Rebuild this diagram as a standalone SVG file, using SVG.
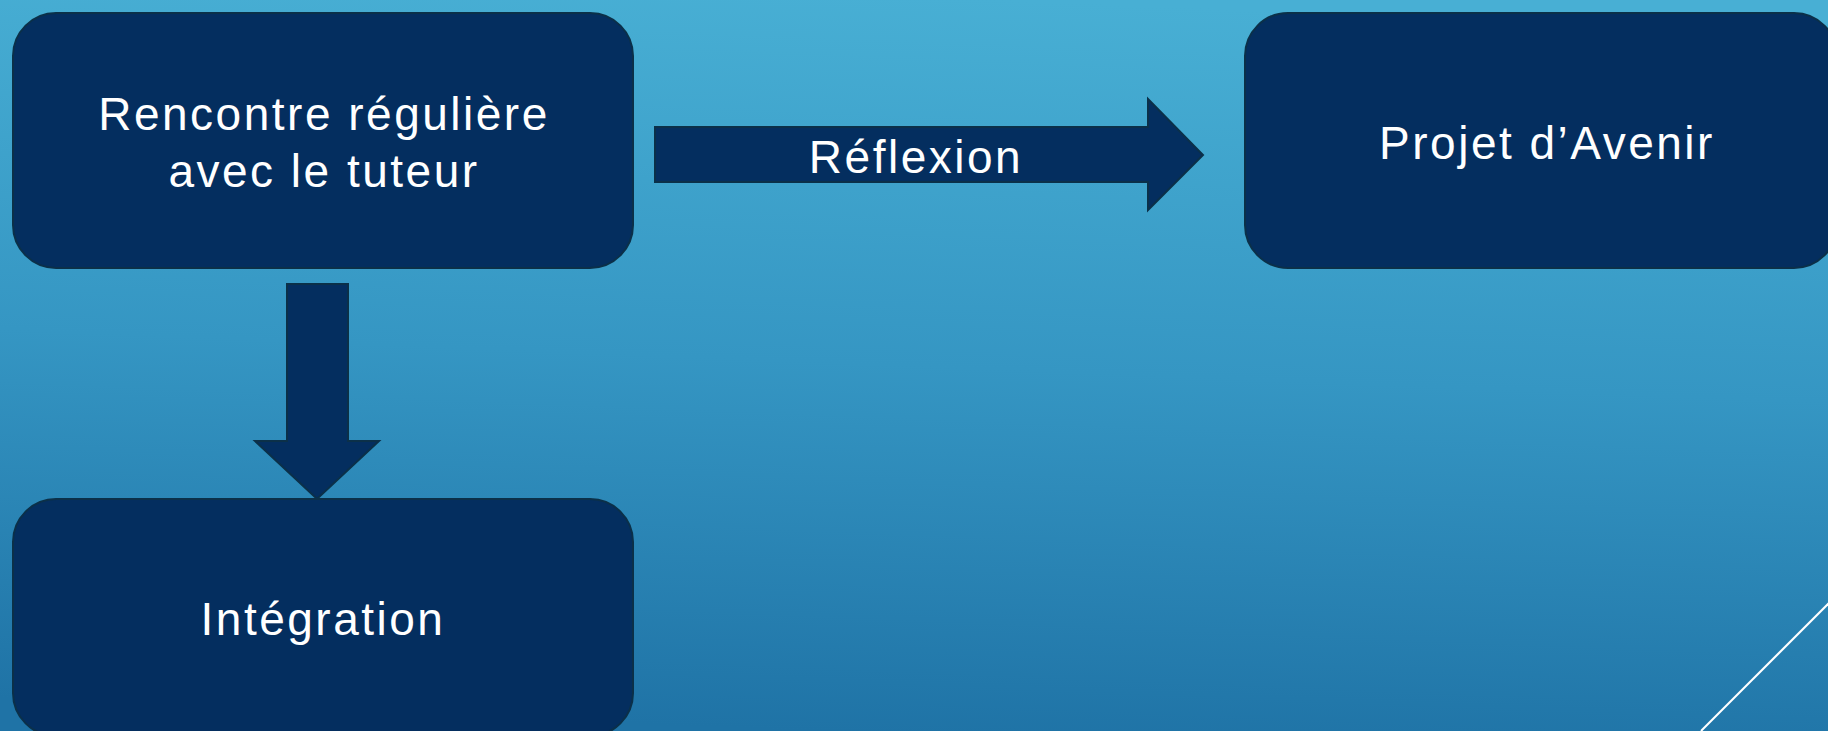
<svg xmlns="http://www.w3.org/2000/svg" width="1828" height="731" viewBox="0 0 1828 731">
  <defs>
    <linearGradient id="bg" x1="0.55" y1="0" x2="0.45" y2="1">
      <stop offset="0" stop-color="#48AFD4"/>
      <stop offset="0.5" stop-color="#3596C3"/>
      <stop offset="1" stop-color="#1F73A6"/>
    </linearGradient>
    <style>
      .box { fill: #042E5F; stroke: #0B3049; stroke-width: 2; }
      .arrow { fill: #042E5F; stroke: #0B3049; stroke-width: 2; stroke-linejoin: miter; }
      .lbl { font-family: "Liberation Sans", Arial, sans-serif; font-size: 46px; fill: #FFFFFF; text-anchor: middle; letter-spacing: 2.5px; }
    </style>
  </defs>
  <rect id="background" x="0" y="0" width="1828" height="731" fill="url(#bg)"/>
  <line x1="1830" y1="602" x2="1701" y2="731" stroke="#FFFFFF" stroke-width="2"/>

  <g id="connectors">
    <g id="edge-reflexion">
      <polygon class="arrow" points="655,127 1148,127 1148,99 1203,155 1148,210 1148,182 655,182"/>
      <text class="lbl" x="916" y="173">Réflexion</text>
    </g>
    <g id="edge-integration">
      <polygon class="arrow" points="287,284 348,284 348,441 379,441 317,499 255,441 287,441"/>
    </g>
  </g>

  <g id="node-rencontre">
    <rect class="box" x="13" y="13" width="620" height="255" rx="43" ry="43"/>
    <text class="lbl" x="324" y="130">Rencontre régulière</text>
    <text class="lbl" x="324" y="187">avec le tuteur</text>
  </g>

  <g id="node-projet">
    <rect class="box" x="1245" y="13" width="592" height="255" rx="43" ry="43"/>
    <text class="lbl" x="1547" y="159">Projet d’Avenir</text>
  </g>

  <g id="node-integration">
    <rect class="box" x="13" y="499" width="620" height="237" rx="43" ry="43"/>
    <text class="lbl" x="323" y="635">Intégration</text>
  </g>
</svg>
